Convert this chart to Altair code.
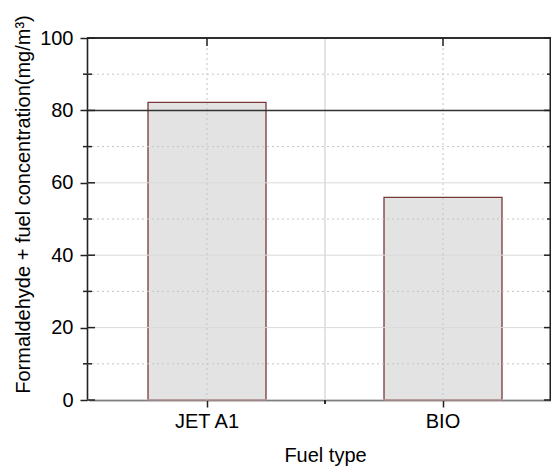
import altair as alt
import pandas as pd

fuels = ["JET A1", "BIO"]
concentration = [82.2, 56.0]
y_major = [0, 20, 40, 60, 80, 100]
y_minor = [10, 30, 50, 70, 90]
ref_value = [80]

W, H = 464, 362
FONT = "Liberation Sans"

bars_df = pd.DataFrame({"fuel": fuels, "conc": concentration})
major_df = pd.DataFrame({"v": y_major})
minor_df = pd.DataFrame({"v": y_minor})
ref_df = pd.DataFrame({"v": ref_value})

x_scale = alt.Scale(domain=fuels, paddingInner=0.5, paddingOuter=0.25, range=[2, 474])
y_scale = alt.Scale(domain=[0, 100], nice=False)

y_axis = alt.Axis(
    values=y_major,
    tickSize=7, grid=False,
    domainColor="#222", domainWidth=1.6,
    tickColor="#222", tickWidth=1.5,
    labelFontSize=20, labelFont=FONT, labelColor="#000", labelPadding=7,
    title="Formaldehyde + fuel concentration(mg/m³)",
    titleFontSize=20, titleFont=FONT, titleFontWeight="normal", titleColor="#000",
    titleX=-58, titleY=166, titleBaseline="alphabetic",
)

x_axis = alt.Axis(
    labelAngle=0, grid=False,
    domainColor="#222", domainWidth=1.6,
    tickColor="#222", tickWidth=1.5, tickSize=7,
    labelFontSize=20, labelFont=FONT, labelColor="#000", labelPadding=4,
    title="Fuel type", titleFontSize=20, titleFont=FONT, titleFontWeight="normal",
    titleColor="#000", titleY=61, titleBaseline="alphabetic",
)

def yrule(df, x0, x1, color="#222", width=1.5, dash=None):
    kw = dict(color=color, strokeWidth=width)
    if dash:
        kw["strokeDash"] = dash
    return alt.Chart(df).mark_rule(**kw).encode(
        y=alt.Y("v:Q", scale=y_scale), x=alt.value(x0), x2=alt.value(x1),
    )

hgrid_major = yrule(major_df, 0, W, color="#dadada", width=1)
hgrid_minor = yrule(minor_df, 0, W, color="#c4c4c4", width=1, dash=[2, 3])

xgrid = alt.Chart(bars_df).mark_rule(color="#c4c4c4", strokeDash=[2, 3], strokeWidth=1).encode(
    x=alt.X("fuel:N", scale=x_scale),
    y=alt.value(0), y2=alt.value(H),
)

midgrid = alt.Chart(bars_df).mark_rule(color="#dadada", strokeWidth=1).encode(
    x=alt.value(238), y=alt.value(0), y2=alt.value(H),
)

bars = alt.Chart(bars_df).mark_bar(fill="#e3e3e3", stroke="#7a3838", strokeWidth=1.3).encode(
    x=alt.X("fuel:N", scale=x_scale, axis=x_axis),
    y=alt.Y("conc:Q", scale=y_scale, axis=y_axis),
)

ref = yrule(ref_df, 0, W, color="#333", width=1.5)

left_major = yrule(major_df, 0, 8)
left_minor = yrule(minor_df, -4, 5)
right_major = yrule(major_df, W - 7, W)
right_minor = yrule(minor_df, W - 4, W)

top_ticks = alt.Chart(bars_df).mark_rule(color="#222", strokeWidth=1.5).encode(
    x=alt.X("fuel:N", scale=x_scale), y=alt.value(0), y2=alt.value(8),
)
bottom_mid = alt.Chart(bars_df).mark_rule(color="#222", strokeWidth=1.5).encode(
    x=alt.value(238), y=alt.value(H), y2=alt.value(H + 4),
)
frame_top = alt.Chart(bars_df).mark_rule(color="#222", strokeWidth=1.6).encode(
    x=alt.value(0), x2=alt.value(W), y=alt.value(0),
)
frame_right = alt.Chart(bars_df).mark_rule(color="#222", strokeWidth=1.6).encode(
    x=alt.value(W - 0.5), y=alt.value(0), y2=alt.value(H),
)

chart = alt.layer(
    bars, hgrid_major, hgrid_minor, xgrid, midgrid, ref,
    left_major, left_minor, right_major, right_minor, top_ticks, bottom_mid,
    frame_top, frame_right,
).properties(
    width=W, height=H,
    autosize=alt.AutoSizeParams(type="none"),
    padding={"left": 79, "top": 30, "right": 0, "bottom": 67},
    background="white",
).configure_view(
    stroke=None,
)

chart.save("out.html", embed_options={"renderer": "svg", "actions": False})
